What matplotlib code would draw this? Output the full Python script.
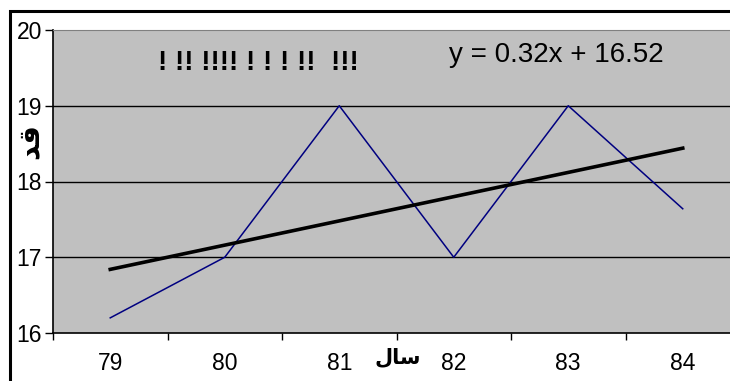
import matplotlib
matplotlib.use("Agg")
import matplotlib.pyplot as plt
import numpy as np
from matplotlib.patches import Rectangle

plt.rcParams["font.family"] = ["Liberation Sans", "DejaVu Sans"]

# data
years = ["79", "80", "81", "82", "83", "84"]
heights = [16.2, 17.0, 19.0, 17.0, 19.0, 17.64]
y_ticks = [16, 17, 18, 19, 20]

# Persian labels in presentation forms, visual order
x_title = "\uFEDD\uFE8E\uFEB3"   # سال
y_title = "\uFEAA\uFED7"         # قد
top_text = "! !! !!!! ! ! ! !!  !!!"

x = np.arange(1, len(years) + 1)
slope, intercept = np.polyfit(x, heights, 1)

W, H = 730, 381
fig = plt.figure(figsize=(W / 100, H / 100), dpi=100)

# axes spans past the right edge, like the cropped original
left, right, top, bottom = 53, 740, 30, 333
ax = fig.add_axes([left / W, 1 - bottom / H, (right - left) / W, (bottom - top) / H])
ax.set_facecolor("#c0c0c0")

ax.plot(x, heights, color="#000080", linewidth=1.1, zorder=3)
ax.plot(x, slope * x + intercept, color="black", linewidth=2.6, zorder=4)

ax.set_xlim(0.5, len(years) + 0.5)
ax.set_ylim(16, 20)

ax.set_yticks(y_ticks)
ax.set_yticklabels([str(t) for t in y_ticks], fontsize=16.5)
ax.tick_params(axis="y", direction="out", length=6, width=1, pad=2)

# ticks between categories, labels at the centres
ax.set_xticks(np.arange(0.5, len(years) + 1, 1.0))
ax.set_xticklabels([])
ax.tick_params(axis="x", which="major", direction="out", length=5, width=1)
ax.set_xticks(x, minor=True)
ax.set_xticklabels(years, minor=True, fontsize=16.5)
ax.tick_params(axis="x", which="minor", length=0, pad=14)

for t in y_ticks[1:-1]:
    ax.axhline(t, color="black", linewidth=1, zorder=1)

ax.spines["left"].set_linewidth(1.2)
ax.spines["bottom"].set_linewidth(1.2)
ax.spines["top"].set_color("#808080")
ax.spines["right"].set_visible(False)

fig.text(398 / W, 1 - 357 / H, x_title, fontsize=15, fontweight="bold",
         ha="center", va="center")
fig.text(29 / W, 1 - 141 / H, y_title, fontsize=21, fontweight="bold",
         rotation=90, ha="center", va="center")
fig.text(258 / W, 1 - 63 / H, top_text, fontsize=20, fontweight="bold",
         ha="center", va="center")
fig.text(556 / W, 1 - 55 / H, f"y = {slope:.2f}x + {intercept:.2f}",
         fontsize=20, ha="center", va="center")

# outer chart frame, cropped on right and bottom
fig.patches.append(Rectangle((10 / W, -0.1), 1.2, 1 - 11 / H + 0.1,
                             transform=fig.transFigure, fill=False,
                             edgecolor="black", linewidth=2.2))

fig.savefig("out.png", dpi=100)
